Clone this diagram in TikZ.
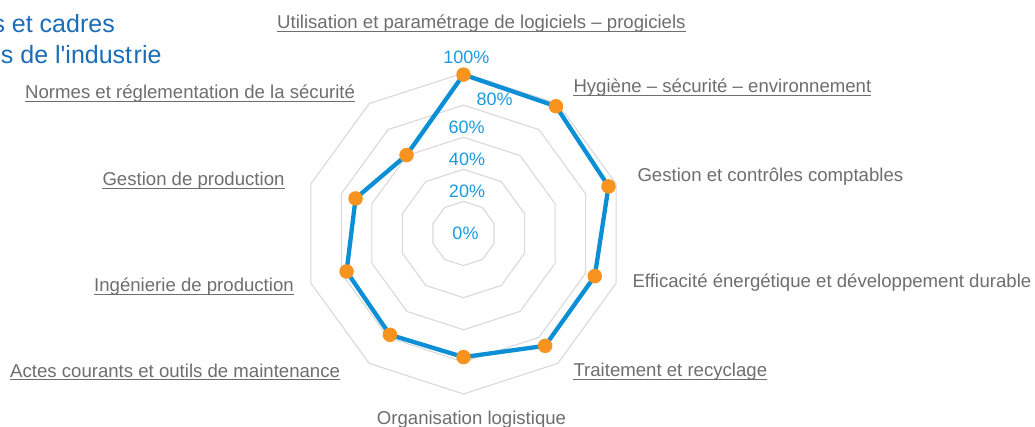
\documentclass[tikz,border=0pt]{standalone}
\usepackage{fontspec}
\setmainfont{Liberation Sans}
\newfontfamily\titlefont{Liberation Sans}
\definecolor{labgray}{HTML}{6E6E6E}
\definecolor{ringgray}{HTML}{D9D9D9}
\definecolor{serblue}{HTML}{0D8FD6}
\definecolor{tickblue}{HTML}{1A9BE0}
\definecolor{markorange}{HTML}{F7931E}
\definecolor{titleblue}{HTML}{1A6DB8}
\begin{document}
\begin{tikzpicture}[x=1pt,y=1pt,
  axlabel/.style={font=\fontsize{18.6}{22}\selectfont, text=labgray, inner sep=0pt, anchor=base west},
  ticklabel/.style={font=\fontsize{18}{21}\selectfont, text=tickblue, inner sep=0pt},
  ring/.style={draw=ringgray, line width=1.1pt, line join=miter},
  uline/.style={draw=labgray, line width=0.9pt},
  series/.style={draw=serblue, line width=4.3pt, line join=round},
  marker/.style={circle, fill=markorange, inner sep=0pt, minimum size=14.5pt},
  titletext/.style={font=\titlefont\fontsize{25}{30}\selectfont, text=titleblue, inner sep=0pt, anchor=base east}]
\useasboundingbox (0,-427) rectangle (1035,0);
\clip (0,-427) rectangle (1035,0);
\fill[white] (0,-427) rectangle (1035,0);
% title (cut at left edge)
\node[titletext] (t1) at (115,-33) {s et cadres};
\node[titletext] (t2) at (161.7,-64) {s de l'indust\kern1.5pt rie};
% rings and data
\begin{scope}[shift={(463.5,-233.5)}]
  \foreach \k in {1,...,5} {
    \draw[ring] (90:\k*32.1) \foreach \i in {1,...,9} { -- (90-36*\i:\k*32.1) } -- cycle;
  }
  \foreach \v [count=\i from 0] in {99,98,95,86,86.5,77,78,76.6,70.7,60.4} {
    \coordinate (p\i) at (90-36*\i:\v*1.605);
  }
\end{scope}
% tick labels
\node[ticklabel] (k100) at (466.3,-57.5) {100\%};
\node[ticklabel] (k80) at (494.7,-99) {80\%};
\node[ticklabel] (k60) at (466.7,-127) {60\%};
\node[ticklabel] (k40) at (467,-159) {40\%};
\node[ticklabel] (k20) at (467,-191.5) {20\%};
\node[ticklabel] (k0) at (465.5,-233) {0\%};
% series
\draw[series] (p0) -- (p1) -- (p2) -- (p3) -- (p4) -- (p5) -- (p6) -- (p7) -- (p8) -- (p9) -- cycle;
\foreach \i in {0,...,9} { \node[marker] (m\i) at (p\i) {}; }
% axis labels
\node[axlabel] (l0) at (277,-28.5) {Utilisation et paramétrage de logiciels – progiciels};
\node[axlabel] (l1) at (573.3,-92.7) {Hygiène – sécurité – environnement};
\node[axlabel] (l2) at (637.3,-181.7) {Gestion et contrôles comptables};
\node[axlabel] (l3) at (632.3,-287.7) {Efficacité énergétique et développement durable};
\node[axlabel] (l4) at (573.3,-376.7) {Traitement et recyclage};
\node[axlabel] (l5) at (376.7,-424) {Organisation logistique};
\node[axlabel] (l6) at (10,-377.3) {Actes courants et outils de maintenance};
\node[axlabel] (l7) at (94,-291.7) {Ingénierie de production};
\node[axlabel] (l8) at (102.3,-186) {Gestion de production};
\node[axlabel] (l9) at (25,-99) {Normes et réglementation de la sécurité};
\foreach \n in {l0,l1,l4,l6,l7,l8,l9} {
  \draw[uline] ([yshift=-2.6pt]\n.base west) -- ([yshift=-2.6pt]\n.base east);
}
\end{tikzpicture}
\end{document}
